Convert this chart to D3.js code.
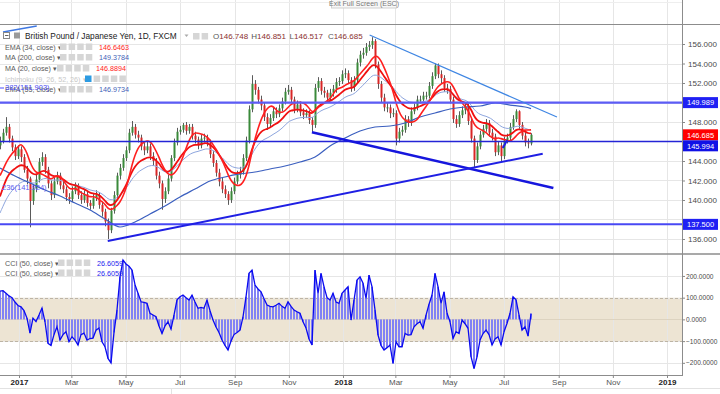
<!DOCTYPE html>
<html>
<head>
<meta charset="utf-8">
<script src="https://cdn.jsdelivr.net/npm/d3@7"></script>
<style>
    body { margin: 0; background: #fff; }
    svg { display: block; font-family: "Liberation Sans", Arial, sans-serif; }
</style>
</head>
<body>
<div class="content"></div>
<script>
// GBP/JPY daily, FXCM - candles + MAs + CCI(50)
const barStart = new Date(2016, 11, 10, 14);
const barDays = 3.38;
const firstOpen = 145.6;

const closes = [
    146.0, 146.9, 147.5, 146.3, 145.4, 144.5, 145.2, 144.4, 143.1, 142.2,
    139.9, 141.2, 142.1, 143.9, 144.4, 143.1, 141.7, 140.5, 141.9, 142.5,
    141.5, 141.1, 140.3, 140.1, 140.9, 141.4, 140.5, 140.0, 140.6, 139.7,
    139.4, 140.2, 140.5, 139.5, 138.8, 137.8, 136.9, 138.9, 140.5, 142.5,
    143.3, 144.3, 145.1, 146.9, 147.5, 146.7, 146.4, 145.5, 145.1, 145.5,
    144.5, 144.0, 142.5, 141.7, 140.1, 140.9, 142.2, 144.3, 145.9, 147.0,
    147.2, 147.7, 147.1, 147.5, 146.6, 146.2, 145.6, 146.3, 146.4, 145.9,
    144.7, 143.8, 142.8, 141.9, 141.1, 140.6, 140.0, 140.9, 141.9, 142.6,
    142.9, 144.3, 146.1, 149.3, 151.9, 151.3, 150.3, 149.7, 148.5, 147.8,
    148.4, 149.1, 148.8, 149.4, 150.1, 151.1, 151.3, 150.3, 149.3, 149.8,
    149.0, 148.7, 148.9, 148.2, 147.7, 151.5, 152.2, 151.2, 151.0, 150.5,
    151.0, 151.4, 152.1, 152.2, 152.9, 153.0, 152.3, 151.6, 152.3, 154.1,
    154.9, 155.1, 155.7, 155.9, 156.3, 153.9, 151.9, 150.5, 149.5, 149.5,
    148.9, 148.9, 146.3, 147.0, 147.2, 148.3, 147.9, 149.1, 149.5, 150.3,
    150.3, 150.7, 150.7, 151.7, 152.7, 153.8, 152.9, 152.5, 151.5, 151.4,
    150.3, 148.3, 147.8, 148.7, 149.2, 149.6, 148.1, 146.3, 144.1, 145.5,
    146.7, 147.3, 147.9, 146.9, 146.5, 144.9, 145.6, 144.5, 146.1, 146.4,
    147.5, 148.3, 149.1, 147.7, 146.6, 145.9, 145.8, 146.685
];

const highs = [
    146.5, 147.3, 148.5, 147.8, 146.6, 145.7, 145.6, 145.5, 144.7, 143.5,
    142.4, 141.6, 142.6, 144.3, 144.9, 144.7, 143.4, 142.0, 142.3, 142.9,
    142.8, 141.9, 141.4, 140.7, 141.4, 141.8, 141.7, 140.9, 141.0, 140.9,
    140.0, 140.6, 141.0, 140.8, 139.8, 139.1, 138.1, 139.2, 140.9, 142.8,
    143.7, 144.7, 145.5, 147.3, 148.1, 147.8, 147.1, 146.7, 145.9, 146.0,
    145.8, 144.9, 144.3, 142.9, 142.0, 141.3, 142.6, 144.6, 146.3, 147.4,
    147.6, 147.9, 148.0, 147.8, 147.8, 147.0, 146.5, 146.7, 146.8, 146.7,
    146.2, 145.0, 144.1, 143.2, 142.3, 141.5, 140.9, 141.3, 142.3, 143.0,
    143.4, 144.7, 146.5, 149.7, 152.8, 152.3, 151.6, 150.7, 150.0, 148.9,
    148.8, 149.5, 149.5, 149.8, 150.5, 151.5, 151.8, 151.6, 150.6, 150.2,
    150.1, 149.4, 149.3, 149.2, 148.5, 151.9, 152.6, 152.5, 151.6, 151.3,
    151.4, 151.8, 152.5, 152.6, 153.3, 153.5, 153.3, 152.6, 152.7, 154.5,
    155.3, 155.6, 156.1, 156.3, 156.7, 156.5, 154.2, 152.2, 150.9, 150.0,
    149.8, 149.4, 149.2, 147.4, 147.6, 148.7, 148.6, 149.5, 149.9, 150.7,
    150.7, 151.1, 151.1, 152.1, 153.1, 154.0, 154.0, 153.3, 152.8, 151.9,
    151.7, 150.6, 148.7, 149.1, 149.6, 150.0, 149.9, 148.4, 146.6, 145.9,
    147.1, 147.7, 148.3, 148.2, 147.3, 146.8, 146.0, 145.9, 146.5, 146.8,
    147.9, 148.7, 149.3, 149.2, 148.0, 146.9, 146.3, 146.851
];

const lows = [
    145.2, 145.8, 146.6, 145.9, 145.0, 144.1, 144.2, 143.9, 142.8, 141.6,
    137.2, 139.5, 140.8, 141.8, 143.5, 142.7, 141.2, 140.0, 140.2, 141.6,
    141.1, 140.7, 139.9, 139.6, 139.8, 140.6, 140.1, 139.6, 139.7, 139.3,
    139.0, 139.1, 139.9, 139.1, 138.3, 137.3, 136.0, 136.6, 138.6, 140.2,
    142.1, 143.0, 144.0, 144.8, 146.6, 146.3, 145.9, 145.1, 144.6, 144.8,
    144.1, 143.5, 142.1, 141.2, 139.0, 139.7, 140.6, 141.9, 144.0, 145.6,
    146.7, 146.9, 146.7, 146.8, 146.2, 145.8, 145.2, 145.3, 145.9, 145.5,
    144.3, 143.4, 142.4, 141.4, 140.7, 140.2, 139.5, 139.7, 140.6, 141.6,
    142.2, 142.6, 144.0, 145.8, 149.0, 150.8, 149.9, 149.2, 148.1, 147.2,
    147.4, 148.1, 148.4, 148.5, 149.1, 149.8, 150.8, 149.9, 148.9, 149.0,
    148.6, 148.3, 148.4, 147.8, 147.0, 147.4, 151.1, 150.8, 150.5, 150.1,
    150.2, 150.6, 151.0, 151.7, 151.9, 152.5, 151.9, 151.1, 151.2, 152.0,
    153.7, 154.5, 154.8, 155.3, 155.5, 153.5, 151.4, 150.0, 149.1, 149.0,
    148.4, 148.5, 145.6, 145.9, 146.6, 146.9, 147.5, 147.6, 148.8, 149.2,
    149.9, 150.0, 150.3, 150.4, 151.4, 152.4, 152.5, 152.0, 151.1, 150.9,
    149.9, 147.9, 147.4, 147.5, 148.4, 148.8, 147.7, 145.9, 143.3, 143.8,
    145.2, 146.4, 147.0, 146.5, 146.1, 144.5, 144.6, 143.9, 144.2, 145.8,
    146.1, 147.2, 148.0, 147.3, 146.2, 145.5, 145.3, 145.6
];

const cciValues = [
    130, 132, 120, 108, 100, 80, 64, 58, 40, 6,
    -63, 6, -10, 20, 52, -11, -110, -120, -70, -34,
    -95, -70, -57, -103, -80, -95, -118, -70, -63, -95,
    -88, -86, -50, -40, -103, -126, -180, -200, -60, 43,
    196, 273, 255, 245, 227, 160, 120, 81, 78, 74,
    28, 20, 12, -30, -65, -30, -11, -45, 20, 90,
    104, 112, 100, 89, 112, 80, 51, 55, 51, 89,
    40, -3, -35, -60, -95, -120, -141, -100, -70, -60,
    -49, 12, 104, 212, 227, 158, 140, 127, 95, 66,
    60, 58, 65, 74, 60, 51, 81, 60, 43, 35,
    28, -11, -40, -90, -118, 227, 120, 212, 150, 100,
    89, 120, 80, 74, 120, 135, 150, -3, 89, 181,
    196, 166, 97, 204, 150, 43, -72, -120, -141, -130,
    -118, -203, -103, -126, -126, -65, -72, -70, -34, -20,
    -11, -41, 20, 70, 112, 212, 150, 74, 127, 28,
    -11, -88, -57, -65, -3, -20, -41, -172, -226, -172,
    -95, -65, -49, -70, -118, -90, -80, -118, -57, -18,
    28, 104, 90, 20, -49, -34, -77, 26.6
];

// MA(200) every 5th bar (+ last bar)
const ma200Bars = [0, 5, 10, 15, 20, 25, 30, 35, 40, 45, 50, 55, 60, 65, 70, 75, 80, 85,
    90, 95, 100, 105, 110, 115, 120, 125, 130, 135, 140, 145, 150, 155, 160, 165, 170, 175, 177];
const ma200Values = [143.28, 142.46, 141.74, 141.03, 140.41, 139.69, 138.97, 138.05, 137.23,
    137.74, 138.56, 139.38, 140.31, 141.13, 141.95, 142.36, 142.67, 142.87, 143.18, 143.49,
    143.90, 144.41, 145.54, 146.36, 147.08, 147.49, 147.59, 147.90, 148.51, 148.92, 149.33,
    149.54, 149.64, 149.95, 149.74, 149.54, 149.38];

// values of the short averages where the chart begins
const ema34Start = 139.5;
const ema55Start = 138.0;
const ma20Start = 142.0;

const priceTicks = [136, 138, 140, 142, 144, 146, 148, 150, 152, 154, 156];
const cciTicks = [200, 100, 0, -100, -200];
const levelPrices = [149.989, 145.994, 137.5];
const lastPrice = 146.685;

// drawn trend lines: [date, price] -> [date, price]
const trendLines = [
    [['2018-01-31', 156.92], ['2018-08-30', 148.51]],
    [['2017-11-27', 146.94], ['2018-08-26', 141.23]],
    [['2017-04-11', 135.79], ['2018-08-14', 144.75]],
    [['2016-12-14', 157.23], ['2017-01-21', 157.85]],
    [['2018-06-30', 145.33], ['2018-07-05', 146.15]]
];

const titleText = 'British Pound / Japanese Yen, 1D, FXCM';
const ohlcLabels = ['O', 'H', 'L', 'C'];
const ohlcValues = ['146.748', '146.851', '146.517', '146.685'];
const studyNames = ['EMA (34, close)', 'MA (200, close)', 'MA (20, close)', 'Ichimoku (9, 26, 52, 26)', 'EMA (55, close)'];
const studyValues = ['146.6463', '149.3784', '146.8894', '', '146.9734'];
const cciNames = ['CCI (50, close)', 'CCI (50, close)'];
const cciLegendValues = ['26.6059', '26.6059'];
const fibLabels = ['382(151.903)', '236(141.924)'];

(function () {
    let width = 720, height = 394;
    let axisX = 682;
    let mainTop = 25, mainBottom = 254, cciBottom = 375;

    let svg = d3.select('.content').append('svg')
        .attr('width', width)
        .attr('height', height);

    let xScale = d3.scaleTime()
        .domain([new Date(2017, 0, 1), new Date(2019, 0, 1)])
        .range([19, 667]);
    let yScale = d3.scaleLinear().domain([134.46, 157.95]).range([mainBottom, mainTop]);
    let cciScale = d3.scaleLinear().domain([-256, 301]).range([cciBottom, mainBottom]);

    let bars = closes.map(function (c, i) {
        return {
            date: new Date(barStart.getTime() + i * barDays * 864e5),
            open: i ? closes[i - 1] : firstOpen,
            high: highs[i],
            low: lows[i],
            close: c,
            cci: cciValues[i]
        };
    });
    let bx = function (d) { return Math.round(xScale(d.date)); };

    function ema(values, period, seed) {
        let k = 2 / (period + 1), prev = seed;
        return values.map(function (v) { prev = prev + k * (v - prev); return prev; });
    }
    function sma(values, n, seed) {
        return values.map(function (v, i) {
            let win = values.slice(Math.max(0, i - n + 1), i + 1);
            return (d3.sum(win) + (n - win.length) * seed) / n;
        });
    }
    // 1 bar here ~ 2.4 trading days
    let ema34 = ema(closes, 14, ema34Start);
    let ema55 = ema(closes, 23, ema55Start);
    let ma20 = sma(closes, 8, ma20Start);

    let defs = svg.append('defs');
    defs.append('clipPath').attr('id', 'mainClip').append('rect')
        .attr('x', 0).attr('y', mainTop).attr('width', axisX).attr('height', mainBottom - mainTop);
    defs.append('clipPath').attr('id', 'cciClip').append('rect')
        .attr('x', 0).attr('y', mainBottom).attr('width', axisX).attr('height', cciBottom - mainBottom);

    // cci band
    svg.append('rect')
        .attr('x', 0).attr('width', axisX)
        .attr('y', cciScale(100)).attr('height', cciScale(-100) - cciScale(100))
        .attr('fill', '#ede4d3');

    // grid
    let monthTicks = d3.timeMonth.every(2).range(xScale.invert(0), xScale.invert(axisX));
    let grid = svg.append('g').attr('stroke', '#e6e6e6').attr('stroke-width', 1);
    grid.selectAll('.vgrid').data(monthTicks).enter().append('line')
        .attr('x1', function (d) { return Math.round(xScale(d)) + 0.5; })
        .attr('x2', function (d) { return Math.round(xScale(d)) + 0.5; })
        .attr('y1', 0).attr('y2', cciBottom);
    grid.selectAll('.hgrid').data(priceTicks).enter().append('line')
        .attr('x1', 0).attr('x2', axisX)
        .attr('y1', function (d) { return Math.round(yScale(d)) + 0.5; })
        .attr('y2', function (d) { return Math.round(yScale(d)) + 0.5; });
    grid.selectAll('.cgrid').data(cciTicks).enter().append('line')
        .attr('x1', 0).attr('x2', axisX)
        .attr('y1', function (d) { return Math.round(cciScale(d)) + 0.5; })
        .attr('y2', function (d) { return Math.round(cciScale(d)) + 0.5; })
        .attr('stroke', function (d) { return d === 0 ? '#ddd3c0' : '#e6e6e6'; });
    svg.append('line').attr('x1', 0).attr('x2', axisX).attr('y1', 2.5).attr('y2', 2.5)
        .attr('stroke', '#eeeeee');

    svg.selectAll('.band-edge').data([100, -100]).enter().append('line')
        .attr('x1', 0).attr('x2', axisX)
        .attr('y1', function (d) { return Math.round(cciScale(d)) + 0.5; })
        .attr('y2', function (d) { return Math.round(cciScale(d)) + 0.5; })
        .attr('stroke', '#bdb4a4').attr('stroke-dasharray', '3,2');

    // candles
    let main = svg.append('g').attr('clip-path', 'url(#mainClip)');
    let candle = main.append('g').selectAll('g').data(bars).enter().append('g');
    candle.append('line')
        .attr('x1', function (d) { return bx(d) + 0.5; })
        .attr('x2', function (d) { return bx(d) + 0.5; })
        .attr('y1', function (d) { return yScale(d.high); })
        .attr('y2', function (d) { return yScale(d.low); })
        .attr('stroke', '#5a5a5a');
    candle.append('rect')
        .attr('x', function (d) { return bx(d) - 0.5; })
        .attr('width', 2)
        .attr('y', function (d) { return yScale(Math.max(d.open, d.close)); })
        .attr('height', function (d) { return Math.max(1, Math.abs(yScale(d.open) - yScale(d.close))); })
        .attr('fill', function (d) { return d.close >= d.open ? '#3a8a3a' : '#d92626'; });

    // moving averages
    let maLine = function (vals) {
        return d3.line()
            .x(function (v, i) { return xScale(bars[i].date); })
            .y(function (v) { return yScale(v); })
            .curve(d3.curveBasis)(vals);
    };
    main.append('path').attr('d', maLine(ema55))
        .attr('fill', 'none').attr('stroke', '#8ea6de').attr('stroke-width', 1);
    main.append('path')
        .datum(ma200Bars.map(function (b, k) { return {date: bars[b].date, v: ma200Values[k]}; }))
        .attr('d', d3.line()
            .x(function (d) { return xScale(d.date); })
            .y(function (d) { return yScale(d.v); })
            .curve(d3.curveMonotoneX))
        .attr('fill', 'none').attr('stroke', '#3b5fbf').attr('stroke-width', 1.2);
    main.append('path').attr('d', maLine(ema34))
        .attr('fill', 'none').attr('stroke', '#f01010').attr('stroke-width', 1.8);
    main.append('path').attr('d', maLine(ma20))
        .attr('fill', 'none').attr('stroke', '#ff2020').attr('stroke-width', 1.6);

    // horizontal levels
    let levelStyle = [['#5c5cf6', 2.2], ['#2424d6', 1.5], ['#4848f4', 2]];
    main.selectAll('.level').data(levelPrices).enter().append('line')
        .attr('x1', 0).attr('x2', axisX)
        .attr('y1', function (d) { return yScale(d); })
        .attr('y2', function (d) { return yScale(d); })
        .attr('stroke', function (d, i) { return levelStyle[i][0]; })
        .attr('stroke-width', function (d, i) { return levelStyle[i][1]; });

    // trend lines
    let lineStyle = [['#3f86e3', 1.2], ['#1616dd', 2.5], ['#1f1fe4', 2], ['#3f78e3', 1.5], ['#1f1fe4', 2]];
    let parseDay = d3.timeParse('%Y-%m-%d');
    svg.append('g').selectAll('line').data(trendLines).enter().append('line')
        .attr('x1', function (d) { return xScale(parseDay(d[0][0])); })
        .attr('y1', function (d) { return yScale(d[0][1]); })
        .attr('x2', function (d) { return xScale(parseDay(d[1][0])); })
        .attr('y2', function (d) { return yScale(d[1][1]); })
        .attr('stroke', function (d, i) { return lineStyle[i][0]; })
        .attr('stroke-width', function (d, i) { return lineStyle[i][1]; });

    // cci histogram + line
    let cciG = svg.append('g').attr('clip-path', 'url(#cciClip)');
    cciG.selectAll('rect').data(bars).enter().append('rect')
        .attr('x', function (d) { return bx(d) - 1; })
        .attr('width', 2)
        .attr('y', function (d) { return Math.min(cciScale(d.cci), cciScale(0)); })
        .attr('height', function (d) { return Math.abs(cciScale(d.cci) - cciScale(0)); })
        .attr('fill', '#8282f4');
    cciG.append('path').datum(bars)
        .attr('d', d3.line()
            .x(function (d) { return xScale(d.date); })
            .y(function (d) { return cciScale(d.cci); }))
        .attr('fill', 'none').attr('stroke', '#0a0af0').attr('stroke-width', 1.3);

    // frame lines
    svg.append('line').attr('x1', 0).attr('x2', width).attr('y1', mainTop - 0.5).attr('y2', mainTop - 0.5)
        .attr('stroke', '#8c8c8c');
    svg.append('line').attr('x1', 0).attr('x2', width).attr('y1', mainBottom).attr('y2', mainBottom)
        .attr('stroke', '#8c8c8c').attr('stroke-width', 1.5);
    svg.append('line').attr('x1', 0).attr('x2', axisX).attr('y1', cciBottom + 0.5).attr('y2', cciBottom + 0.5)
        .attr('stroke', '#8c8c8c');
    svg.append('line').attr('x1', axisX + 0.5).attr('x2', axisX + 0.5).attr('y1', 0).attr('y2', cciBottom + 1)
        .attr('stroke', '#8c8c8c');
    svg.append('line').attr('x1', 0).attr('x2', width).attr('y1', 388.5).attr('y2', 388.5)
        .attr('stroke', '#e2e2e2');
    svg.append('line').attr('x1', 171.5).attr('x2', 171.5).attr('y1', 389).attr('y2', height)
        .attr('stroke', '#e2e2e2');

    let styleAxis = function (size) {
        return function (g) {
            g.select('.domain').remove();
            g.selectAll('.tick line').attr('stroke', '#888');
            g.selectAll('.tick text').attr('fill', '#4a4a4a')
                .attr('font-size', size).attr('font-family', '"Liberation Sans", Arial, sans-serif');
        };
    };

    // price tags on the scale
    let tags = [
        {v: levelPrices[0], fill: '#2020f4'},
        {v: lastPrice, fill: '#ff0000'},
        {v: levelPrices[1], fill: '#1010e6'},
        {v: levelPrices[2], fill: '#2020f4'}
    ].map(function (t) { t.y = yScale(t.v); return t; })
        .sort(function (a, b) { return a.y - b.y; });
    for (let i = 1; i < tags.length; i++) {
        if (tags[i].y - tags[i - 1].y < 11) tags[i].y = tags[i - 1].y + 11;
    }

    let priceAxisG = svg.append('g').attr('transform', 'translate(' + axisX + ',0)')
        .call(d3.axisRight(yScale).tickValues(priceTicks).tickSize(3).tickPadding(3)
            .tickFormat(d3.format('.3f')))
        .call(styleAxis(8));
    // tick labels sitting under a tag are hidden, as on the original scale
    priceAxisG.selectAll('.tick text').filter(function (d) {
        return tags.some(function (t) { return Math.abs(yScale(d) - t.y) < 9; });
    }).remove();

    svg.append('g').attr('transform', 'translate(' + axisX + ',0)')
        .call(d3.axisRight(cciScale).tickValues(cciTicks).tickSize(3).tickPadding(1)
            .tickFormat(d3.format('.4f')))
        .call(styleAxis(6.6));

    let xAxisG = svg.append('g').attr('transform', 'translate(0,' + cciBottom + ')')
        .call(d3.axisBottom(xScale).tickValues(monthTicks).tickSize(3).tickPadding(1)
            .tickFormat(function (d) { return d.getMonth() === 0 ? d.getFullYear() : d3.timeFormat('%b')(d); }))
        .call(styleAxis(8));
    xAxisG.selectAll('.tick text')
        .attr('font-weight', function (d) { return d.getMonth() === 0 ? 'bold' : 'normal'; })
        .attr('fill', function (d) { return d.getMonth() === 0 ? '#222' : '#555'; });

    let tag = svg.append('g').selectAll('g').data(tags).enter().append('g');
    tag.append('rect')
        .attr('x', axisX + 1).attr('width', width - axisX - 3)
        .attr('y', function (d) { return d.y - 5.5; }).attr('height', 11)
        .attr('fill', function (d) { return d.fill; });
    tag.append('text')
        .attr('x', axisX + 5).attr('y', function (d) { return d.y + 2.7; })
        .attr('fill', '#fff').attr('font-size', 7.5)
        .text(function (d) { return d3.format('.3f')(d.v); });

    // legends
    let icons = function (g, x, y, n, first) {
        for (let k = 0; k < n; k++) {
            g.append('rect').attr('x', x + k * 8.6).attr('y', y - 6).attr('width', 6.5).attr('height', 6.5)
                .attr('fill', k === 0 && first ? first : '#d6d6d6');
        }
    };
    let legend = svg.append('g');
    legend.append('rect').attr('x', 3.5).attr('y', 32.5).attr('width', 6).attr('height', 6)
        .attr('fill', '#fff').attr('stroke', '#888');
    legend.append('line').attr('x1', 5).attr('x2', 8.5).attr('y1', 35.5).attr('y2', 35.5).attr('stroke', '#666');
    legend.append('rect').attr('x', 14).attr('y', 32.5).attr('width', 6).attr('height', 6).attr('fill', '#9a9a9a');
    legend.append('text').attr('x', 25).attr('y', 38.5).attr('font-size', 8.3).attr('fill', '#222')
        .text(titleText);
    legend.append('path').attr('d', 'M184.5,34.5 L188.5,34.5 L186.5,37 Z').attr('fill', '#aaa');
    icons(legend, 193, 39, 2);
    ohlcLabels.forEach(function (l, k) {
        let t = legend.append('text').attr('x', 213 + k * 38.3).attr('y', 38.5).attr('font-size', 8);
        t.append('tspan').attr('fill', '#555').text(l);
        t.append('tspan').attr('fill', '#8b3030').text(ohlcValues[k]);
    });

    let rowY = [49.5, 60, 71, 81.5, 92];
    let valueX = [99, 99, 96, 0, 99];
    let iconX = [60, 60, 57, 85, 60];
    let valueColor = ['#ff2020', '#3f5fb8', '#ff2020', '#999', '#3f5fb8'];
    studyNames.forEach(function (name, k) {
        let faded = k === 3;
        legend.append('text').attr('x', 5).attr('y', rowY[k]).attr('font-size', 7.2)
            .attr('fill', faded ? '#c8c8c8' : '#5a5a5a').text(name + ' ▾');
        icons(legend, iconX[k], rowY[k], faded ? 5 : 4, faded ? '#2d9be2' : null);
        if (studyValues[k]) {
            legend.append('text').attr('x', valueX[k]).attr('y', rowY[k]).attr('font-size', 7.2)
                .attr('fill', valueColor[k]).text(studyValues[k]);
        }
    });
    // fibonacci labels left over from a drawing
    legend.append('line').attr('x1', 0).attr('x2', 4).attr('y1', 88).attr('y2', 88).attr('stroke', '#4d4dff');
    legend.append('text').attr('x', 5).attr('y', 90).attr('font-size', 7.5).attr('fill', '#4b4bf0')
        .text(fibLabels[0]);
    legend.append('text').attr('x', 2).attr('y', 190).attr('font-size', 7.5).attr('fill', '#5b5bf0')
        .text(fibLabels[1]);

    cciNames.forEach(function (name, k) {
        let y = 265.5 + k * 10;
        legend.append('text').attr('x', 5).attr('y', y).attr('font-size', 7.2).attr('fill', '#5a5a5a')
            .text(name + ' ▾');
        icons(legend, 58, y, 4);
        legend.append('text').attr('x', 97).attr('y', y).attr('font-size', 7.2).attr('fill', '#2424ee')
            .text(cciLegendValues[k]);
    });

    // tooltip at the top edge
    svg.append('rect').attr('x', 331.5).attr('y', -4).attr('width', 65).attr('height', 12)
        .attr('fill', '#f7f7f7').attr('stroke', '#cfcfcf');
    svg.append('text').attr('x', 364).attr('y', 6).attr('text-anchor', 'middle')
        .attr('font-size', 7).attr('fill', '#777').text('Exit Full Screen (ESC)');
})();
</script>
</body>
</html>
